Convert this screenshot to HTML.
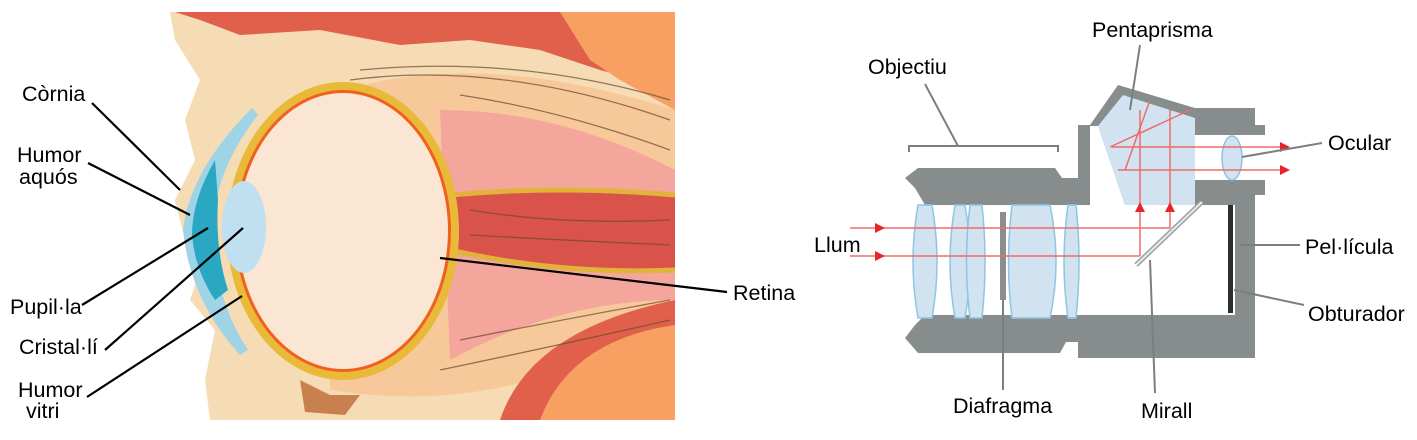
<!DOCTYPE html>
<html><head><meta charset="utf-8"><style>
html,body{margin:0;padding:0;background:#fff;}
svg{display:block;}
text{font-family:"Liberation Sans",sans-serif;font-size:21.5px;fill:#000;}
</style></head><body>
<svg width="1417" height="440" viewBox="0 0 1417 440" xmlns="http://www.w3.org/2000/svg">
<!-- EYE -->
<g>
<path d="M170 12 L675 12 L675 420 L210 420 L205 380 L215 330 L190 300 L200 270 L185 240 L175 200 L195 160 L185 120 L200 80 L175 40 Z" fill="#f5dcb4"/>
<path d="M175 12 L675 12 L675 90 L600 70 L540 50 L470 40 L400 45 L320 30 L240 35 L200 20 Z" fill="#e0604c"/>
<path d="M560 12 L675 12 L675 110 L620 80 L590 60 Z" fill="#f7a062"/>
<path d="M330 95 Q470 45 675 110 L675 310 Q520 420 330 390 Z" fill="#f7c89a"/>
<path d="M440 110 Q560 110 675 170 L675 300 Q560 300 450 360 Z" fill="#f4a59c"/>
<path d="M450 195 Q560 185 675 195 L675 270 Q560 275 450 250 Z" fill="#d9534a"/>
<path d="M450 195 Q560 185 675 195" stroke="#e2b23a" stroke-width="5" fill="none"/>
<path d="M450 250 Q560 275 675 270" stroke="#e2b23a" stroke-width="5" fill="none"/>
<path d="M520 420 Q560 330 675 320 L675 420 Z" fill="#f7a062"/>
<path d="M500 420 Q530 330 675 300 L675 325 Q570 340 540 420 Z" fill="#e0604c"/>
<path d="M300 380 L330 395 L360 395 L345 415 L305 412 Z" fill="#c9804f"/>
<g stroke="#6b4a30" stroke-width="1.3" fill="none" opacity="0.7">
<path d="M350 80 Q500 60 670 120"/><path d="M360 70 Q520 55 670 100"/><path d="M460 95 Q560 110 670 150"/>
<path d="M460 340 Q560 320 670 300"/><path d="M440 370 Q560 345 670 320"/><path d="M470 210 Q560 225 670 220"/><path d="M470 235 Q560 240 670 245"/>
</g>
<ellipse cx="343" cy="231" rx="116" ry="149" fill="#e9b93a"/>
<ellipse cx="343" cy="231" rx="108" ry="141" fill="#f0601e"/>
<ellipse cx="343" cy="231" rx="105" ry="138" fill="#fbe6d3"/>
<path d="M252 108 Q190 170 183 230 Q190 300 240 355 L248 350 Q215 300 212 230 Q215 170 258 115 Z" fill="#9fd3e6"/>
<path d="M215 160 Q192 200 192 235 Q195 270 215 300 L228 290 Q215 250 218 200 Z" fill="#2aa7c2"/>
<ellipse cx="244" cy="227" rx="22" ry="46" fill="#c0dff0"/>
<g stroke="#000" stroke-width="2.2" fill="none">
<line x1="92" y1="103" x2="180" y2="190"/>
<line x1="88" y1="163" x2="190" y2="215"/>
<line x1="82" y1="305" x2="208" y2="228"/>
<line x1="105" y1="350" x2="243" y2="228"/>
<line x1="87" y1="397" x2="242" y2="296"/>
<line x1="440" y1="258" x2="727" y2="292"/>
</g>
<text x="22" y="101">Còrnia</text>
<text x="17" y="162">Humor</text>
<text x="19" y="184">aquós</text>
<text x="10" y="314">Pupil·la</text>
<text x="19" y="354">Cristal·lí</text>
<text x="18" y="397">Humor</text>
<text x="26" y="418">vitri</text>
<text x="733" y="300">Retina</text>
</g>
<!-- CAMERA -->
<g>
<path d="M905 178 L918 168 L1055 168 L1062 178 L1078 178 L1078 125 L1090 125 L1118 85 L1195 108 L1255 108 L1255 125 L1265 125 L1265 135 L1195 135 L1195 180 L1265 180 L1265 195 L1255 195 L1255 358 L1078 358 L1078 342 L1066 342 L1060 353 L918 353 L905 338 L915 325 L925 315 L1235 315 L1235 205 L1125 205 L1098 126 L1090 126 L1090 205 L925 205 L915 188 Z" fill="#878d8c"/>
<path d="M1098 126 L1123 95 L1195 118 L1195 205 L1125 205 Z" fill="#d1e3f0"/>
<g fill="#d1e3f0" stroke="#8ec4e4" stroke-width="1.5">
<path d="M918 205 Q908 262 918 318 L932 318 Q942 262 932 205 Z"/>
<path d="M955 205 Q945 262 955 318 L965 318 Q975 262 965 205 Z"/>
<path d="M970 205 Q963 262 970 318 L982 318 Q988 262 982 205 Z"/>
<path d="M1012 205 L1050 205 Q1062 262 1050 318 L1012 318 Q1005 262 1012 205 Z"/>
<path d="M1068 205 Q1060 262 1068 318 L1076 318 Q1082 262 1076 205 Z"/>
<ellipse cx="1232" cy="158" rx="10" ry="22"/>
</g>
<rect x="1000" y="212" width="6" height="88" fill="#8a8f8e"/>
<rect x="1228" y="205" width="5" height="108" fill="#2a2e2e"/>
<line x1="1136" y1="265" x2="1202" y2="202" stroke="#9aa0a0" stroke-width="5"/>
<line x1="1136" y1="265" x2="1202" y2="202" stroke="#e6eaea" stroke-width="2"/>
<g stroke="#ef6b6b" stroke-width="1.5" fill="none">
<line x1="850" y1="228" x2="1170" y2="228"/>
<line x1="850" y1="256" x2="1140" y2="256"/>
<line x1="1140" y1="256" x2="1140" y2="110"/>
<line x1="1170" y1="228" x2="1170" y2="110"/>
<line x1="1112" y1="147" x2="1285" y2="147"/>
<line x1="1118" y1="170" x2="1285" y2="170"/>
<line x1="1110" y1="147" x2="1190" y2="110"/>
<line x1="1125" y1="170" x2="1150" y2="100"/>
</g>
<g fill="#e8242a">
<path d="M875 223 L885 228 L875 233Z"/><path d="M875 251 L885 256 L875 261Z"/>
<path d="M1135 212 L1140 202 L1145 212Z"/><path d="M1165 212 L1170 202 L1175 212Z"/>
<path d="M1280 142 L1290 147 L1280 152Z"/><path d="M1280 165 L1290 170 L1280 175Z"/>
</g>
<g stroke="#7a7f80" stroke-width="2" fill="none">
<path d="M909 152 L909 146 L1058 146 L1058 152"/>
<line x1="925" y1="84" x2="958" y2="146"/>
<line x1="1140" y1="45" x2="1130" y2="110"/>
<line x1="1242" y1="157" x2="1322" y2="143"/>
<line x1="1240" y1="245" x2="1300" y2="245"/>
<line x1="1234" y1="290" x2="1304" y2="305"/>
<line x1="1003" y1="300" x2="1003" y2="390"/>
<line x1="1150" y1="260" x2="1155" y2="393"/>
</g>
<text x="1092" y="37">Pentaprisma</text>
<text x="868" y="74">Objectiu</text>
<text x="1328" y="150">Ocular</text>
<text x="814" y="252">Llum</text>
<text x="1305" y="254">Pel·lícula</text>
<text x="1308" y="321">Obturador</text>
<text x="953" y="413">Diafragma</text>
<text x="1141" y="418">Mirall</text>
</g>
</svg>
</body></html>
